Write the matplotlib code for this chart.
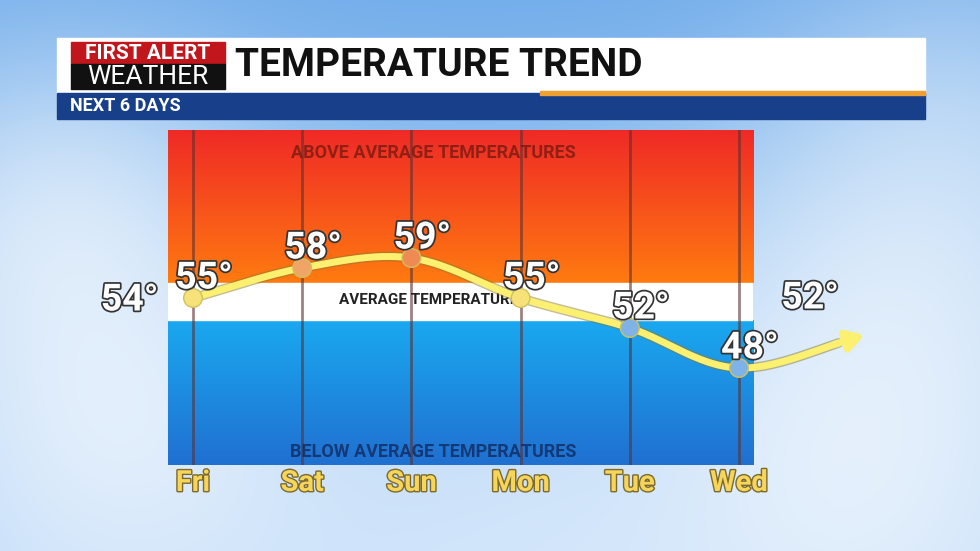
import numpy as np
import matplotlib.pyplot as plt
import matplotlib.patheffects as pe
from matplotlib.colors import LinearSegmentedColormap

days = ["Fri", "Sat", "Sun", "Mon", "Tue", "Wed"]
highs = [55, 58, 59, 55, 52, 48]
marker_colors = ["#f7e27a", "#f0a466", "#f08a55", "#f7e27a", "#7fb3e8", "#7fb3e8"]
today_temp = 54
next_temp = 52
arrow_end = (6.15, 51.3)

W, H = 980, 551
fig = plt.figure(figsize=(W / 100, H / 100), dpi=100)

# sky background
bg = fig.add_axes([0, 0, 1, 1])
yy, xx = np.mgrid[0:H, 0:W]
sky = np.zeros((H, W, 3))
t = yy / H
sky[..., 0] = 0.45 + 0.25 * t
sky[..., 1] = 0.68 + 0.15 * t
sky[..., 2] = 0.92 + 0.05 * t
for cx, cy, r, a in [(60, 230, 130, 0.55), (120, 420, 160, 0.6), (900, 300, 150, 0.5),
                     (850, 480, 170, 0.55), (960, 120, 120, 0.3), (500, 520, 200, 0.35)]:
    g = np.exp(-((xx - cx) ** 2 + (yy - cy) ** 2) / (2 * r ** 2))
    sky = sky + (1 - sky) * (a * g)[..., None]
bg.imshow(np.clip(sky, 0, 1), extent=[0, W, H, 0], aspect="auto")
bg.set_xlim(0, W)
bg.set_ylim(H, 0)
bg.axis("off")

# header
bg.add_patch(plt.Rectangle((57, 38), 868, 56, color="white"))
bg.add_patch(plt.Rectangle((57, 93), 868, 26, color="#173f8a"))
bg.add_patch(plt.Rectangle((540, 91), 385, 4, color="#f0a030"))
bg.add_patch(plt.Rectangle((71, 42), 154, 22, color="#c0161c"))
bg.add_patch(plt.Rectangle((71, 64), 154, 25, color="#111111"))
bg.text(148, 53.5, "FIRST ALERT", color="white", fontsize=15, fontweight="bold",
        ha="center", va="center", family="Roboto")
bg.text(148, 77, "WEATHER", color="white", fontsize=19, ha="center", va="center",
        family="Roboto")
bg.text(235, 66, "TEMPERATURE TREND", color="#111111", fontsize=28, fontweight="bold",
        ha="left", va="center", family="Roboto")
bg.text(70, 106, "NEXT 6 DAYS", color="white", fontsize=13, fontweight="bold",
        ha="left", va="center", family="Roboto")

# chart panel
px0, px1, py0, py1 = 168, 753, 130, 465
ax = fig.add_axes([px0 / W, 1 - py1 / H, (px1 - px0) / W, (py1 - py0) / H])
ax.set_xlim(-0.229, 5.128)
ax.set_ylim(38.3, 71.8)
ax.axis("off")
xl = ax.get_xlim()
warm = LinearSegmentedColormap.from_list("w", ["#ff7a10", "#ef2a26"])
cool = LinearSegmentedColormap.from_list("c", ["#2070d0", "#1aa8f0"])
ax.imshow(np.linspace(0, 1, 100)[:, None], extent=[xl[0], xl[1], 56.5, 71.8],
          cmap=warm, aspect="auto", origin="lower", zorder=0)
ax.imshow(np.linspace(0, 1, 100)[:, None], extent=[xl[0], xl[1], 38.3, 52.8],
          cmap=cool, aspect="auto", origin="lower", zorder=0)
ax.axhspan(52.8, 56.5, color="white", zorder=0)
for i in range(len(days)):
    ax.axvline(i, color="#5a3030", lw=2, alpha=0.6, zorder=1)
ax.text(2.2, 69.5, "ABOVE AVERAGE TEMPERATURES", color="#7a1a10", fontsize=13,
        fontweight="bold", ha="center", va="center", family="Roboto", alpha=0.8)
ax.text(2.2, 54.8, "AVERAGE TEMPERATURES", color="#222222", fontsize=11,
        fontweight="bold", ha="center", va="center", family="Roboto")
ax.text(2.2, 39.6, "BELOW AVERAGE TEMPERATURES", color="#102a60", fontsize=13,
        fontweight="bold", ha="center", va="center", family="Roboto", alpha=0.8)

# smooth trend line (Catmull-Rom through the points)
px = list(range(len(days))) + [arrow_end[0]]
py = highs + [arrow_end[1]]
pts = np.array(list(zip(px, py)), dtype=float)
pts = np.vstack([pts[0] - (pts[1] - pts[0]), pts, pts[-1] + (pts[-1] - pts[-2])])
curve = []
for k in range(1, len(pts) - 2):
    p0, p1, p2, p3 = pts[k - 1], pts[k], pts[k + 1], pts[k + 2]
    for s in np.linspace(0, 1, 30):
        curve.append(0.5 * ((2 * p1) + (-p0 + p2) * s + (2 * p0 - 5 * p1 + 4 * p2 - p3) * s ** 2
                            + (-p0 + 3 * p1 - 3 * p2 + p3) * s ** 3))
curve = np.array(curve)
stroke = [pe.Stroke(linewidth=7, foreground="#8a7a30", alpha=0.5), pe.Normal()]
ax.plot(curve[:-6, 0], curve[:-6, 1], color="#fbf070", lw=5, clip_on=False, zorder=3,
        path_effects=stroke, solid_capstyle="round")
ax.annotate("", xy=arrow_end, xytext=tuple(curve[-8]), annotation_clip=False, zorder=3,
            arrowprops=dict(arrowstyle="-|>,head_length=1.0,head_width=0.6", color="#fbf070",
                            lw=5, shrinkA=0, shrinkB=0))
ax.scatter(range(len(days)), highs, s=180, c=marker_colors, edgecolor="#d0c060", lw=1,
           zorder=4, clip_on=False)

lab_fx = [pe.withStroke(linewidth=2.5, foreground="#333333")]
lab_kw = dict(color="white", fontsize=27, fontweight="bold", ha="center", va="center",
              family="Roboto", path_effects=lab_fx, zorder=5, clip_on=False)
for i, v in enumerate(highs):
    ax.text(i + 0.1, v + 2.0, f"{v}°", **lab_kw)
ax.text(-0.58, 54.8, f"{today_temp}°", **lab_kw)
ax.text(5.65, 55.0, f"{next_temp}°", **lab_kw)
for i, d in enumerate(days):
    ax.text(i, 36.5, d, color="#f6d55a", fontsize=21, fontweight="bold", ha="center",
            va="center", family="Roboto", clip_on=False,
            path_effects=[pe.withStroke(linewidth=2, foreground="#7a6a30")])

fig.savefig("out.png", dpi=100)
